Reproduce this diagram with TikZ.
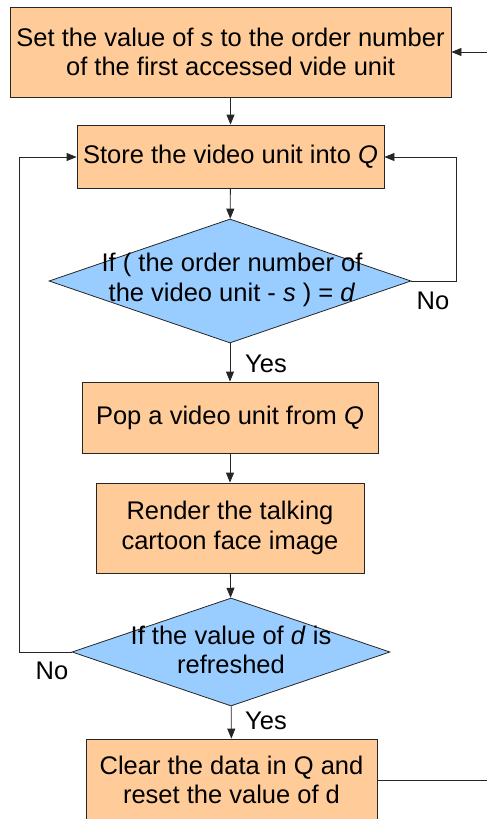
\documentclass[tikz,border=0pt]{standalone}
\usepackage{fontspec}
\setmainfont{Liberation Sans}
\usetikzlibrary{shapes.geometric,arrows.meta}
\definecolor{boxfill}{HTML}{FFCC99}
\definecolor{decfill}{HTML}{99CCFF}
\begin{document}
\begin{tikzpicture}[x=1pt,y=-1pt,
  every node/.style={font=\fontsize{25.5}{29.5}\selectfont},
  procbox/.style={draw=black!85,line width=0.8pt,fill=boxfill,rectangle,inner sep=0pt,align=center},
  decbox/.style={draw=black!85,line width=0.8pt,fill=decfill,diamond,inner sep=0pt},
  dectext/.style={align=center,inner sep=0pt},
  lbl/.style={inner sep=0pt},
  conn/.style={line width=0.8pt,draw=black!85,-{Triangle[length=10pt,width=8pt]}},
  plain/.style={line width=0.8pt,draw=black!85}]
\useasboundingbox (0,0) rectangle (487,819);
\begin{scope}
\clip (0,0) rectangle (487,819);
\node[procbox,minimum width=441pt,minimum height=90pt] (b1) at (230.5,52) {Set the value of \textit{s} to the order number\\of the first accessed vide unit};
\node[procbox,minimum width=307pt,minimum height=63pt] (b2) at (230.5,156.5) {Store the video unit into \textit{Q}};
\node[decbox,minimum width=362pt,minimum height=124pt] (d1) at (230,281) {};
\node[dectext] (t1) at (232,280) {If ( the order number of\\the video unit - \textit{s} ) = \textit{d}};
\node[procbox,minimum width=296pt,minimum height=71pt] (b3) at (230,417.5) {Pop a video unit from \textit{Q}};
\node[procbox,minimum width=268pt,minimum height=90pt] (b4) at (230,528) {Render the talking\\cartoon face image};
\node[decbox,minimum width=318pt,minimum height=108pt] (d2) at (231,652) {};
\node[dectext] (t2) at (231,650) {If the value of \textit{d} is\\refreshed};
\node[procbox,minimum width=291pt,minimum height=82pt,text depth=0pt] (b5) at (231.5,780) {Clear the data in Q and\\reset the value of d};
\coordinate (inR) at (487,52);
\coordinate (outR) at (487,780);
\coordinate (r1) at (456,281);
\coordinate (r2) at (456,157);
\coordinate (l1) at (19,652);
\coordinate (l2) at (19,157);
\draw[conn] (inR) -- (b1.east |- inR);
\draw[conn] (b1) -- (b2);
\draw[conn] (b2) -- (d1);
\draw[conn] (d1) -- (b3);
\draw[conn] (b3) -- (b4);
\draw[conn] (b4) -- (d2);
\draw[conn] (d2) -- (b5);
\draw[conn] (d1.east) -- (r1) -- (r2) -- (b2.east |- r2);
\draw[conn] (d2.west) -- (l1) -- (l2) -- (b2.west |- l2);
\draw[plain] (b5.east |- outR) -- (outR);
\node[lbl,anchor=west] (y1) at (245,364) {Yes};
\node[lbl] (n1) at (433,301) {No};
\node[lbl] (n2) at (52,671) {No};
\node[lbl,anchor=west] (y2) at (245,721) {Yes};
\end{scope}
\end{tikzpicture}
\end{document}
